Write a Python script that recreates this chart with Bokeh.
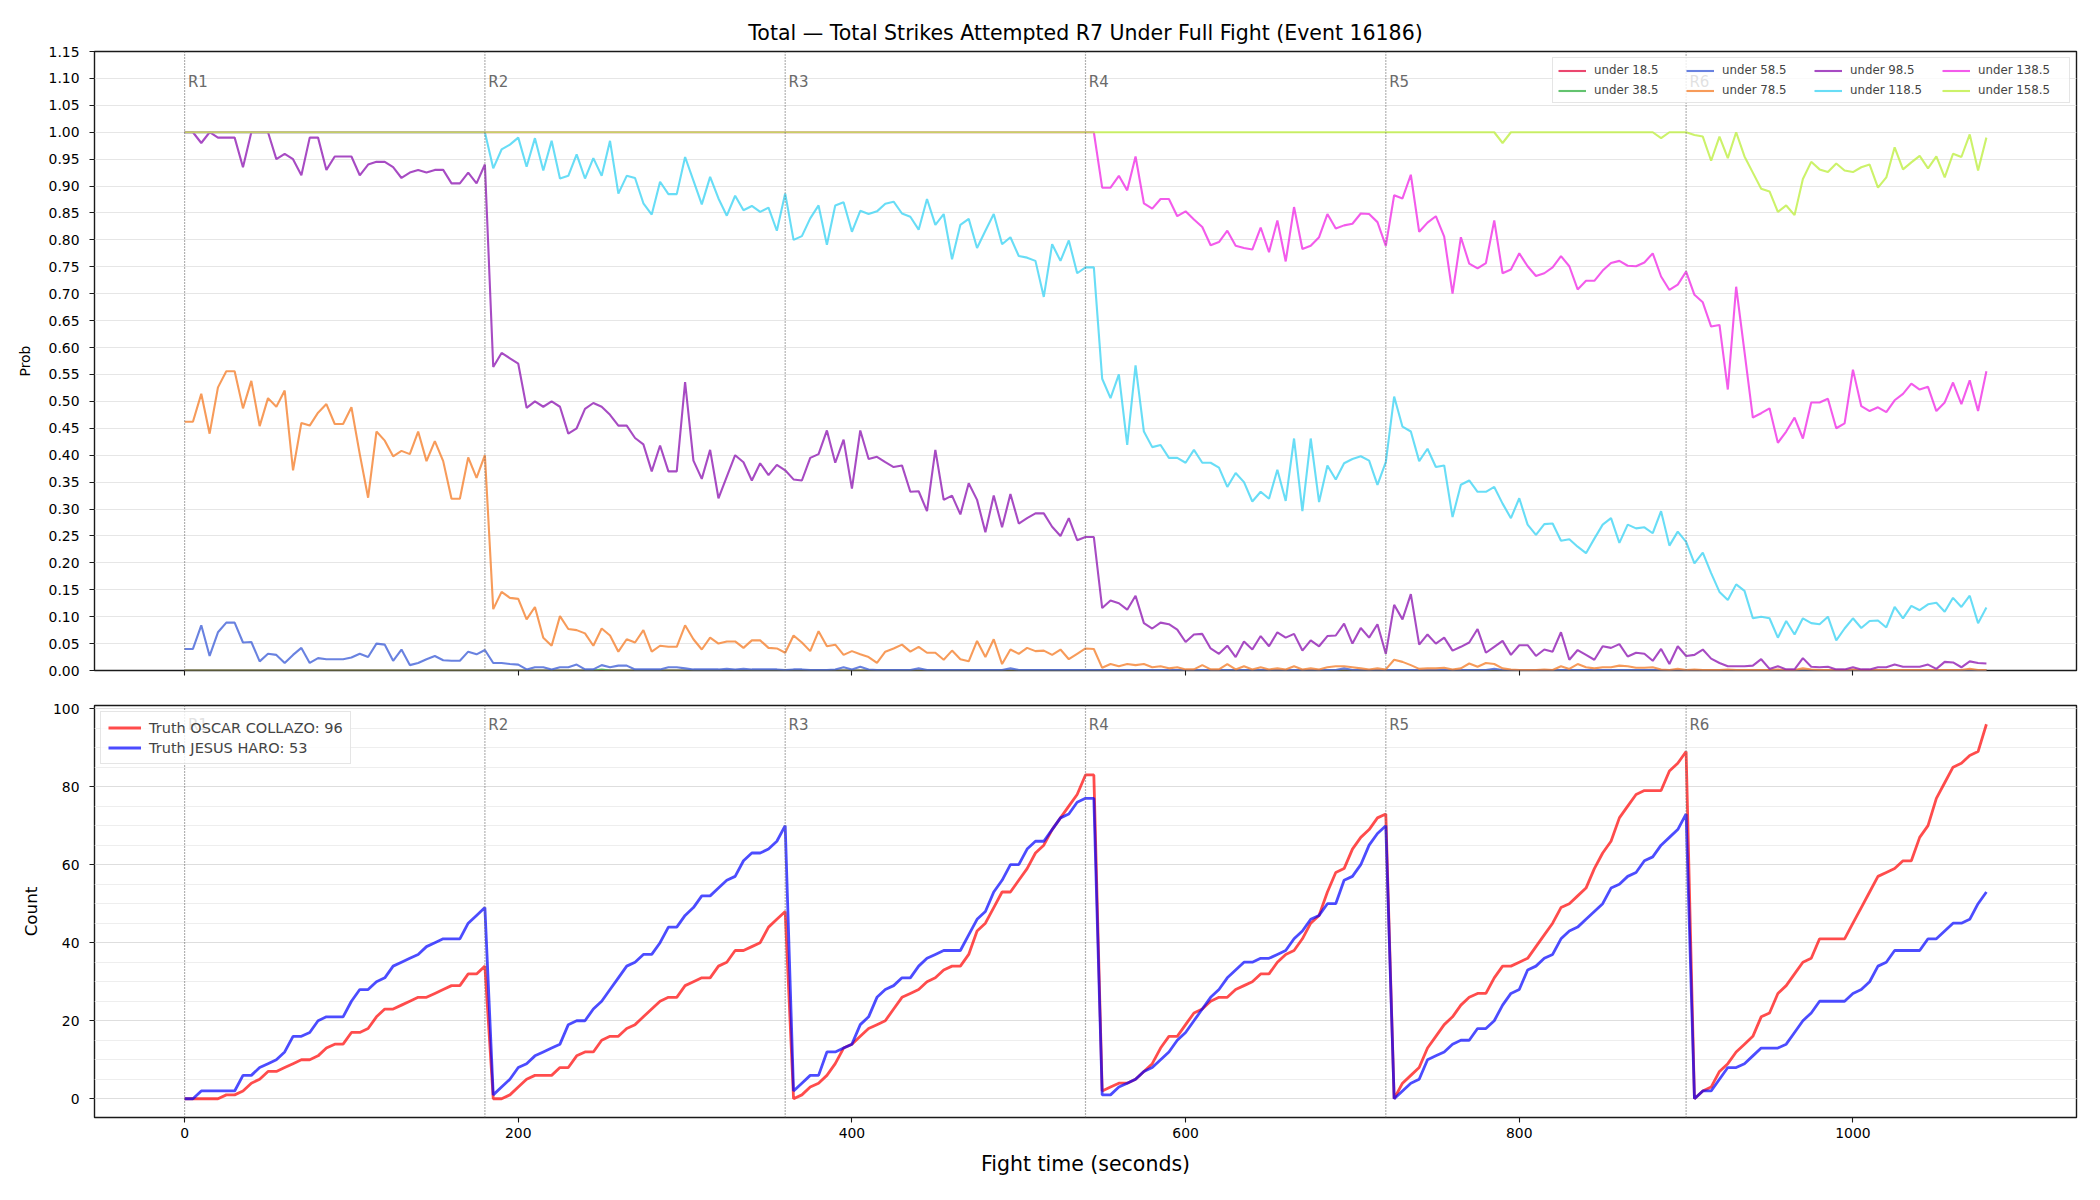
import numpy as np
from bokeh.plotting import figure
from bokeh.layouts import column
from bokeh.models import (Range1d, FixedTicker, NumeralTickFormatter, Span, Label,
                          Legend, LegendItem)
from bokeh.embed import file_html
from bokeh.resources import INLINE

FONT = "DejaVu Sans"

# one sample every 5 s across six 180 s rounds
seconds = np.arange(0, 1085, 5)
round_starts = [0, 180, 360, 540, 720, 900]
round_names = ["R1", "R2", "R3", "R4", "R5", "R6"]

# ---- probability of total strikes attempted finishing under each line ----
under_18_5 = [
    0.0, 0.0, 0.0, 0.0, 0.0, 0.0, 0.0, 0.0, 0.0, 0.0, 0.0, 0.0, 0.0, 0.0, 0.0, 0.0, 0.0, 0.0, 0.0,
    0.0, 0.0, 0.0, 0.0, 0.0, 0.0, 0.0, 0.0, 0.0, 0.0, 0.0, 0.0, 0.0, 0.0, 0.0, 0.0, 0.0, 0.0,
    0.0, 0.0, 0.0, 0.0, 0.0, 0.0, 0.0, 0.0, 0.0, 0.0, 0.0, 0.0, 0.0, 0.0, 0.0, 0.0, 0.0, 0.0,
    0.0, 0.0, 0.0, 0.0, 0.0, 0.0, 0.0, 0.0, 0.0, 0.0, 0.0, 0.0, 0.0, 0.0, 0.0, 0.0, 0.0, 0.0,
    0.0, 0.0, 0.0, 0.0, 0.0, 0.0, 0.0, 0.0, 0.0, 0.0, 0.0, 0.0, 0.0, 0.0, 0.0, 0.0, 0.0, 0.0, 0.0,
    0.0, 0.0, 0.0, 0.0, 0.0, 0.0, 0.0, 0.0, 0.0, 0.0, 0.0, 0.0, 0.0, 0.0, 0.0, 0.0, 0.0, 0.0,
    0.0, 0.0, 0.0, 0.0, 0.0, 0.0, 0.0, 0.0, 0.0, 0.0, 0.0, 0.0, 0.0, 0.0, 0.0, 0.0, 0.0, 0.0,
    0.0, 0.0, 0.0, 0.0, 0.0, 0.0, 0.0, 0.0, 0.0, 0.0, 0.0, 0.0, 0.0, 0.0, 0.0, 0.0, 0.0,
    0.0, 0.0, 0.0, 0.0, 0.0, 0.0, 0.0, 0.0, 0.0, 0.0, 0.0, 0.0, 0.0, 0.0, 0.0, 0.0, 0.0, 0.0,
    0.0, 0.0, 0.0, 0.0, 0.0, 0.0, 0.0, 0.0, 0.0, 0.0, 0.0, 0.0, 0.0, 0.0, 0.0, 0.0, 0.0, 0.0,
    0.0, 0.0, 0.0, 0.0, 0.0, 0.0, 0.0, 0.0, 0.0, 0.0, 0.0, 0.0, 0.0, 0.0, 0.0, 0.0, 0.0, 0.0,
    0.0, 0.0, 0.0, 0.0, 0.0, 0.0, 0.0, 0.0, 0.0, 0.0, 0.0, 0.0, 0.0, 0.0, 0.0, 0.0, 0.0, 0.0,
]
under_38_5 = [
    0.0, 0.0, 0.0, 0.0, 0.0, 0.0, 0.0, 0.0, 0.0, 0.0, 0.0, 0.0, 0.0, 0.0, 0.0, 0.0, 0.0, 0.0, 0.0,
    0.0, 0.0, 0.0, 0.0, 0.0, 0.0, 0.0, 0.0, 0.0, 0.0, 0.0, 0.0, 0.0, 0.0, 0.0, 0.0, 0.0, 0.0,
    0.0, 0.0, 0.0, 0.0, 0.0, 0.0, 0.0, 0.0, 0.0, 0.0, 0.0, 0.0, 0.0, 0.002, 0.0, 0.0, 0.0, 0.0,
    0.0, 0.0, 0.0, 0.0, 0.0, 0.0, 0.0, 0.0, 0.0, 0.0, 0.0, 0.0, 0.0, 0.0, 0.0, 0.0, 0.0, 0.0,
    0.0, 0.0, 0.0, 0.0, 0.0, 0.0, 0.0, 0.0, 0.0, 0.0, 0.0, 0.0, 0.0, 0.0, 0.0, 0.0, 0.0, 0.0, 0.0,
    0.0, 0.0, 0.0, 0.0, 0.0, 0.0, 0.0, 0.0, 0.0, 0.0, 0.0, 0.0, 0.0, 0.0, 0.0, 0.0, 0.0, 0.0,
    0.0, 0.0, 0.0, 0.0, 0.0, 0.0, 0.0, 0.0, 0.0, 0.0, 0.0, 0.0, 0.0, 0.0, 0.0, 0.0, 0.0, 0.0,
    0.0, 0.0, 0.0, 0.0, 0.0, 0.0, 0.0, 0.0, 0.0, 0.0, 0.0, 0.0, 0.0, 0.0, 0.0, 0.0, 0.0,
    0.0, 0.0, 0.0, 0.0, 0.0, 0.0, 0.0, 0.0, 0.0, 0.0, 0.0, 0.0, 0.0, 0.0, 0.0, 0.0, 0.0, 0.0,
    0.0, 0.0, 0.0, 0.0, 0.0, 0.0, 0.0, 0.0, 0.0, 0.0, 0.0, 0.0, 0.0, 0.0, 0.0, 0.0, 0.0, 0.0,
    0.0, 0.0, 0.0, 0.0, 0.0, 0.0, 0.0, 0.0, 0.0, 0.0, 0.0, 0.0, 0.0, 0.0, 0.0, 0.0, 0.0, 0.0,
    0.0, 0.0, 0.0, 0.0, 0.0, 0.0, 0.0, 0.0, 0.0, 0.0, 0.0, 0.0, 0.0, 0.0, 0.0, 0.0, 0.0, 0.0,
]
under_58_5 = [
    0.04, 0.04, 0.084, 0.027, 0.071, 0.089, 0.089, 0.052, 0.053, 0.017,
    0.031, 0.029, 0.014, 0.029, 0.042, 0.014, 0.023, 0.021, 0.021, 0.021,
    0.024, 0.031, 0.025, 0.05, 0.048, 0.018, 0.039, 0.01, 0.014, 0.021,
    0.027, 0.019, 0.018, 0.018, 0.035, 0.03, 0.038,
    0.014, 0.014, 0.012, 0.011, 0.002, 0.006, 0.006, 0.002, 0.006, 0.006,
    0.011, 0.002, 0.002, 0.01, 0.006, 0.009, 0.009, 0.002, 0.002, 0.002,
    0.002, 0.006, 0.006, 0.004, 0.002, 0.002, 0.002, 0.002, 0.003, 0.002,
    0.003, 0.002, 0.002, 0.002, 0.002, 0.001,
    0.002, 0.002, 0.001, 0.001, 0.001, 0.002, 0.006, 0.002, 0.007, 0.002,
    0.001, 0.001, 0.001, 0.001, 0.001, 0.004, 0.001, 0.001, 0.001, 0.001,
    0.001, 0.001, 0.001, 0.001, 0.001, 0.001, 0.004, 0.001, 0.001, 0.001,
    0.001, 0.001, 0.001, 0.001, 0.001, 0.001, 0.001,
    0.001, 0.001, 0.001, 0.001, 0.001, 0.001, 0.001, 0.001, 0.001, 0.001,
    0.001, 0.001, 0.001, 0.001, 0.001, 0.001, 0.001, 0.001, 0.001, 0.001,
    0.001, 0.001, 0.001, 0.001, 0.001, 0.001, 0.001, 0.001, 0.001, 0.004,
    0.001, 0.001, 0.001, 0.001, 0.001,
    0.001, 0.001, 0.001, 0.001, 0.001, 0.001, 0.001, 0.001, 0.001, 0.001,
    0.001, 0.001, 0.003, 0.001, 0.001, 0.001, 0.001, 0.001, 0.001, 0.001,
    0.001, 0.001, 0.001, 0.001, 0.001, 0.001, 0.001, 0.001, 0.001, 0.001,
    0.001, 0.001, 0.001, 0.001, 0.001, 0.001,
    0.0, 0.0, 0.0, 0.0, 0.0, 0.0, 0.0, 0.0, 0.0, 0.0,
    0.0, 0.0, 0.0, 0.0, 0.0, 0.0, 0.0, 0.0, 0.0, 0.0,
    0.0, 0.0, 0.0, 0.0, 0.0, 0.0, 0.0, 0.0, 0.0, 0.0,
    0.0, 0.0, 0.0, 0.0, 0.0, 0.0,
]
under_78_5 = [
    0.462, 0.462, 0.514, 0.44, 0.526, 0.556, 0.556, 0.487, 0.538, 0.454,
    0.506, 0.49, 0.52, 0.372, 0.46, 0.455, 0.479, 0.495, 0.458, 0.458,
    0.489, 0.402, 0.321, 0.444, 0.427, 0.398, 0.408, 0.402, 0.444, 0.389,
    0.426, 0.389, 0.319, 0.319, 0.396, 0.358, 0.40,
    0.114, 0.146, 0.135, 0.133, 0.095, 0.118, 0.061, 0.046, 0.101, 0.077,
    0.075, 0.069, 0.046, 0.078, 0.065, 0.035, 0.058, 0.052, 0.075, 0.035,
    0.046, 0.044, 0.044, 0.084, 0.058, 0.039, 0.061, 0.05, 0.054, 0.054,
    0.042, 0.056, 0.056, 0.042, 0.041, 0.033,
    0.065, 0.052, 0.036, 0.073, 0.045, 0.048, 0.029, 0.036, 0.03, 0.025,
    0.014, 0.035, 0.041, 0.048, 0.035, 0.044, 0.033, 0.033, 0.02, 0.037,
    0.021, 0.017, 0.055, 0.025, 0.058, 0.012, 0.039, 0.031, 0.042, 0.036,
    0.037, 0.029, 0.039, 0.021, 0.031, 0.041, 0.04,
    0.005, 0.012, 0.008, 0.012, 0.01, 0.012, 0.006, 0.008, 0.004, 0.006,
    0.002, 0.002, 0.01, 0.002, 0.002, 0.012, 0.002, 0.008, 0.002, 0.006,
    0.002, 0.004, 0.002, 0.008, 0.002, 0.004, 0.002, 0.006, 0.008, 0.008,
    0.006, 0.004, 0.002, 0.004, 0.002,
    0.02, 0.016, 0.01, 0.003, 0.004, 0.004, 0.005, 0.002, 0.004, 0.013,
    0.007, 0.014, 0.012, 0.004, 0.002, 0.001, 0.001, 0.001, 0.002, 0.001,
    0.008, 0.003, 0.012, 0.006, 0.004, 0.006, 0.006, 0.009, 0.008, 0.005,
    0.005, 0.006, 0.002, 0.001, 0.003, 0.001,
    0.002, 0.001, 0.001, 0.001, 0.002, 0.001, 0.001, 0.001, 0.001, 0.001,
    0.002, 0.001, 0.001, 0.004, 0.002, 0.001, 0.001, 0.001, 0.001, 0.002,
    0.001, 0.001, 0.001, 0.001, 0.001, 0.001, 0.001, 0.001, 0.001, 0.001,
    0.001, 0.001, 0.001, 0.003, 0.001, 0.001,
]
under_98_5 = [
    1.00, 1.00, 0.98, 1.00, 0.99, 0.99, 0.99, 0.935, 1.00, 1.00,
    1.00, 0.95, 0.96, 0.95, 0.92, 0.99, 0.99, 0.93, 0.955, 0.955,
    0.955, 0.92, 0.94, 0.945, 0.945, 0.935, 0.915, 0.925, 0.93, 0.925,
    0.93, 0.93, 0.905, 0.905, 0.925, 0.905, 0.94,
    0.564, 0.59, 0.58, 0.57, 0.488, 0.50, 0.49, 0.50, 0.49, 0.44,
    0.45, 0.486, 0.497, 0.49, 0.475, 0.455, 0.455, 0.432, 0.42, 0.37,
    0.418, 0.37, 0.37, 0.536, 0.39, 0.356, 0.41, 0.32, 0.36, 0.40,
    0.387, 0.353, 0.385, 0.363, 0.382, 0.372,
    0.355, 0.353, 0.395, 0.402, 0.446, 0.386, 0.429, 0.338, 0.446, 0.393,
    0.397, 0.387, 0.378, 0.381, 0.332, 0.333, 0.296, 0.41, 0.317, 0.325,
    0.29, 0.348, 0.317, 0.257, 0.325, 0.266, 0.328, 0.273, 0.283, 0.292,
    0.292, 0.267, 0.25, 0.283, 0.242, 0.248, 0.248,
    0.116, 0.13, 0.125, 0.113, 0.139, 0.088, 0.078, 0.089, 0.086, 0.076,
    0.053, 0.067, 0.068, 0.041, 0.031, 0.046, 0.025, 0.054, 0.039, 0.064,
    0.045, 0.071, 0.061, 0.068, 0.037, 0.056, 0.045, 0.064, 0.065, 0.087,
    0.05, 0.079, 0.061, 0.086, 0.031,
    0.122, 0.095, 0.142, 0.048, 0.067, 0.05, 0.061, 0.037, 0.044, 0.052,
    0.077, 0.033, 0.044, 0.055, 0.029, 0.047, 0.047, 0.027, 0.039, 0.035,
    0.071, 0.02, 0.038, 0.029, 0.02, 0.045, 0.042, 0.049, 0.026, 0.033,
    0.031, 0.018, 0.04, 0.012, 0.045, 0.027,
    0.029, 0.039, 0.022, 0.014, 0.008, 0.008, 0.008, 0.009, 0.021, 0.003,
    0.008, 0.002, 0.002, 0.023, 0.007, 0.006, 0.007, 0.002, 0.002, 0.006,
    0.002, 0.002, 0.006, 0.006, 0.011, 0.007, 0.007, 0.007, 0.011, 0.003,
    0.016, 0.015, 0.006, 0.017, 0.014, 0.013,
]
under_118_5 = [
    1.0, 1.0, 1.0, 1.0, 1.0, 1.0, 1.0, 1.0, 1.0, 1.0,
    1.0, 1.0, 1.0, 1.0, 1.0, 1.0, 1.0, 1.0, 1.0, 1.0,
    1.0, 1.0, 1.0, 1.0, 1.0, 1.0, 1.0, 1.0, 1.0, 1.0,
    1.0, 1.0, 1.0, 1.0, 1.0, 1.0, 1.0,
    0.933, 0.968, 0.977, 0.99, 0.936, 0.989, 0.929, 0.984, 0.914, 0.919,
    0.959, 0.914, 0.952, 0.919, 0.984, 0.886, 0.919, 0.915, 0.868, 0.847,
    0.908, 0.885, 0.885, 0.954, 0.91, 0.866, 0.917, 0.877, 0.845, 0.882,
    0.855, 0.863, 0.852, 0.86, 0.817, 0.886,
    0.80, 0.807, 0.84, 0.864, 0.791, 0.864, 0.87, 0.815, 0.854, 0.848,
    0.853, 0.867, 0.871, 0.849, 0.843, 0.819, 0.876, 0.828, 0.848, 0.764,
    0.828, 0.839, 0.785, 0.817, 0.848, 0.792, 0.805, 0.77, 0.767, 0.761,
    0.694, 0.792, 0.761, 0.799, 0.738, 0.749, 0.749,
    0.542, 0.506, 0.55, 0.419, 0.567, 0.444, 0.415, 0.419, 0.395, 0.395,
    0.386, 0.41, 0.386, 0.386, 0.377, 0.341, 0.367, 0.35, 0.314, 0.332,
    0.319, 0.373, 0.315, 0.431, 0.296, 0.431, 0.313, 0.381, 0.355, 0.385,
    0.393, 0.398, 0.39, 0.345, 0.387,
    0.509, 0.453, 0.444, 0.389, 0.412, 0.378, 0.381, 0.285, 0.345, 0.353,
    0.332, 0.332, 0.341, 0.31, 0.283, 0.32, 0.271, 0.252, 0.272, 0.273,
    0.241, 0.244, 0.23, 0.218, 0.245, 0.271, 0.283, 0.237, 0.271, 0.264,
    0.266, 0.255, 0.296, 0.232, 0.258, 0.239,
    0.199, 0.219, 0.181, 0.146, 0.131, 0.16, 0.148, 0.097, 0.1, 0.097,
    0.061, 0.092, 0.067, 0.097, 0.088, 0.086, 0.1, 0.056, 0.078, 0.097,
    0.079, 0.092, 0.093, 0.08, 0.118, 0.097, 0.12, 0.112, 0.123, 0.126,
    0.109, 0.135, 0.118, 0.139, 0.088, 0.117,
]
under_138_5 = [
    1.0, 1.0, 1.0, 1.0, 1.0, 1.0, 1.0, 1.0, 1.0, 1.0,
    1.0, 1.0, 1.0, 1.0, 1.0, 1.0, 1.0, 1.0, 1.0, 1.0,
    1.0, 1.0, 1.0, 1.0, 1.0, 1.0, 1.0, 1.0, 1.0, 1.0,
    1.0, 1.0, 1.0, 1.0, 1.0, 1.0, 1.0,
    1.0, 1.0, 1.0, 1.0, 1.0, 1.0, 1.0, 1.0, 1.0, 1.0,
    1.0, 1.0, 1.0, 1.0, 1.0, 1.0, 1.0, 1.0, 1.0, 1.0,
    1.0, 1.0, 1.0, 1.0, 1.0, 1.0, 1.0, 1.0, 1.0, 1.0,
    1.0, 1.0, 1.0, 1.0, 1.0, 1.0,
    1.0, 1.0, 1.0, 1.0, 1.0, 1.0, 1.0, 1.0, 1.0, 1.0,
    1.0, 1.0, 1.0, 1.0, 1.0, 1.0, 1.0, 1.0, 1.0, 1.0,
    1.0, 1.0, 1.0, 1.0, 1.0, 1.0, 1.0, 1.0, 1.0, 1.0,
    1.0, 1.0, 1.0, 1.0, 1.0, 1.0, 1.0,
    0.897, 0.897, 0.919, 0.892, 0.955, 0.868, 0.858, 0.876, 0.876, 0.844,
    0.853, 0.838, 0.824, 0.79, 0.796, 0.817, 0.789, 0.785, 0.782, 0.823,
    0.777, 0.836, 0.76, 0.861, 0.783, 0.789, 0.805, 0.848, 0.821, 0.827,
    0.83, 0.849, 0.848, 0.833, 0.789,
    0.883, 0.877, 0.921, 0.815, 0.832, 0.844, 0.806, 0.70, 0.805, 0.756,
    0.747, 0.757, 0.836, 0.738, 0.745, 0.775, 0.751, 0.733, 0.738, 0.749,
    0.77, 0.751, 0.708, 0.724, 0.724, 0.743, 0.757, 0.761, 0.752, 0.751,
    0.758, 0.775, 0.732, 0.707, 0.717, 0.741,
    0.698, 0.684, 0.639, 0.642, 0.522, 0.713, 0.592, 0.47, 0.478, 0.487,
    0.423, 0.444, 0.47, 0.431, 0.498, 0.498, 0.505, 0.45, 0.459, 0.559,
    0.491, 0.482, 0.489, 0.48, 0.502, 0.514, 0.533, 0.522, 0.527, 0.482,
    0.498, 0.535, 0.495, 0.539, 0.482, 0.556,
]
under_158_5 = [
    1.0, 1.0, 1.0, 1.0, 1.0, 1.0, 1.0, 1.0, 1.0, 1.0,
    1.0, 1.0, 1.0, 1.0, 1.0, 1.0, 1.0, 1.0, 1.0, 1.0,
    1.0, 1.0, 1.0, 1.0, 1.0, 1.0, 1.0, 1.0, 1.0, 1.0,
    1.0, 1.0, 1.0, 1.0, 1.0, 1.0, 1.0,
    1.0, 1.0, 1.0, 1.0, 1.0, 1.0, 1.0, 1.0, 1.0, 1.0,
    1.0, 1.0, 1.0, 1.0, 1.0, 1.0, 1.0, 1.0, 1.0, 1.0,
    1.0, 1.0, 1.0, 1.0, 1.0, 1.0, 1.0, 1.0, 1.0, 1.0,
    1.0, 1.0, 1.0, 1.0, 1.0, 1.0,
    1.0, 1.0, 1.0, 1.0, 1.0, 1.0, 1.0, 1.0, 1.0, 1.0,
    1.0, 1.0, 1.0, 1.0, 1.0, 1.0, 1.0, 1.0, 1.0, 1.0,
    1.0, 1.0, 1.0, 1.0, 1.0, 1.0, 1.0, 1.0, 1.0, 1.0,
    1.0, 1.0, 1.0, 1.0, 1.0, 1.0, 1.0,
    1.0, 1.0, 1.0, 1.0, 1.0, 1.0, 1.0, 1.0, 1.0, 1.0,
    1.0, 1.0, 1.0, 1.0, 1.0, 1.0, 1.0, 1.0, 1.0, 1.0,
    1.0, 1.0, 1.0, 1.0, 1.0, 1.0, 1.0, 1.0, 1.0, 1.0,
    1.0, 1.0, 1.0, 1.0, 1.0,
    1.0, 1.0, 1.0, 1.0, 1.0, 1.0, 1.0, 1.0, 1.0, 1.0,
    1.0, 1.0, 1.0, 0.98, 1.0, 1.0, 1.0, 1.0, 1.0, 1.0,
    1.0, 1.0, 1.0, 1.0, 1.0, 1.0, 1.0, 1.0, 1.0, 1.0,
    1.0, 1.0, 0.989, 1.0, 1.0, 1.0,
    0.995, 0.992, 0.947, 0.992, 0.952, 1.0, 0.955, 0.925, 0.895, 0.89,
    0.852, 0.864, 0.846, 0.913, 0.945, 0.931, 0.926, 0.942, 0.929, 0.926,
    0.935, 0.94, 0.897, 0.916, 0.972, 0.931, 0.944, 0.956, 0.933, 0.955,
    0.916, 0.96, 0.954, 0.996, 0.929, 0.99,
]

line_labels = ["under 18.5", "under 38.5", "under 58.5", "under 78.5",
               "under 98.5", "under 118.5", "under 138.5", "under 158.5"]
line_colors = ["#e6194b", "#3cb44b", "#4363d8", "#f58231",
               "#911eb4", "#42d4f4", "#f032e6", "#bfef45"]
line_series = [under_18_5, under_38_5, under_58_5, under_78_5,
               under_98_5, under_118_5, under_138_5, under_158_5]

# ---- running per-round strike counts ----
collazo_count = [
    0, 0, 0, 0, 0, 1, 1, 2, 4, 5, 7, 7, 8, 9, 10, 10, 11, 13, 14, 14,
    17, 17, 18, 21, 23, 23, 24, 25, 26, 26, 27, 28, 29, 29, 32, 32, 34,
    0, 0, 1, 3, 5, 6, 6, 6, 8, 8, 11, 12, 12, 15, 16, 16, 18, 19, 21, 23,
    25, 26, 26, 29, 30, 31, 31, 34, 35, 38, 38, 39, 40, 44, 46, 48,
    0, 1, 3, 4, 6, 9, 13, 14, 16, 18, 19, 20, 23, 26, 27, 28, 30, 31, 33, 34,
    34, 37, 43, 45, 49, 53, 53, 56, 59, 63, 65, 69, 72, 75, 78, 83, 83,
    2, 3, 4, 4, 5, 7, 9, 13, 16, 16, 19, 22, 23, 25, 26, 26, 28, 29, 30, 32,
    32, 35, 37, 38, 41, 45, 47, 53, 58, 59, 64, 67, 69, 72, 73,
    0, 4, 6, 8, 13, 16, 19, 21, 24, 26, 27, 27, 31, 34, 34, 35, 36, 39, 42, 45,
    49, 50, 52, 54, 59, 63, 66, 72, 75, 78, 79, 79, 79, 84, 86, 89,
    0, 2, 3, 7, 9, 12, 14, 16, 21, 22, 27, 29, 32, 35, 36, 41, 41, 41, 41, 45,
    49, 53, 57, 58, 59, 61, 61, 67, 70, 77, 81, 85, 86, 88, 89, 96,
]
haro_count = [
    0, 0, 2, 2, 2, 2, 2, 6, 6, 8, 9, 10, 12, 16, 16, 17, 20, 21, 21, 21,
    25, 28, 28, 30, 31, 34, 35, 36, 37, 39, 40, 41, 41, 41, 45, 47, 49,
    1, 3, 5, 8, 9, 11, 12, 13, 14, 19, 20, 20, 23, 25, 28, 31, 34, 35, 37, 37,
    40, 44, 44, 47, 49, 52, 52, 54, 56, 57, 61, 63, 63, 64, 66, 70,
    2, 4, 6, 6, 12, 12, 13, 14, 19, 21, 26, 28, 29, 31, 31, 34, 36, 37, 38, 38,
    38, 42, 46, 48, 53, 56, 60, 60, 64, 66, 66, 69, 72, 73, 76, 77, 77,
    1, 1, 3, 4, 5, 7, 8, 10, 12, 15, 17, 20, 23, 26, 28, 31, 33, 35, 35, 36,
    36, 37, 38, 41, 43, 46, 47, 50, 50, 56, 57, 60, 65, 68, 70,
    0, 2, 4, 5, 10, 11, 12, 14, 15, 15, 18, 18, 20, 24, 27, 28, 33, 34, 36, 37,
    41, 43, 44, 46, 48, 50, 54, 55, 57, 58, 61, 62, 65, 67, 69, 73,
    0, 2, 2, 5, 8, 8, 9, 11, 13, 13, 13, 14, 17, 20, 22, 25, 25, 25, 25, 27,
    28, 30, 34, 35, 38, 38, 38, 38, 41, 41, 43, 45, 45, 46, 50, 53,
]

for s in line_series + [collazo_count, haro_count]:
    assert len(s) == len(seconds), len(s)

TITLE = "Total — Total Strikes Attempted R7 Under Full Fight (Event 16186)"
INK = "#1a1a1a"


def style_axes(p):
    p.background_fill_color = "white"
    p.border_fill_color = "white"
    p.outline_line_color = INK
    p.outline_line_width = 1.4
    p.axis.axis_line_color = None
    p.axis.major_tick_line_color = INK
    p.axis.major_tick_line_width = 1.1
    p.axis.major_tick_out = 5
    p.axis.major_tick_in = 0
    p.axis.minor_tick_line_color = None
    p.axis.major_label_text_font = FONT
    p.axis.major_label_text_font_size = "13.9px"
    p.axis.major_label_text_color = "black"
    p.axis.axis_label_text_font = FONT
    p.axis.axis_label_text_font_style = "normal"
    p.axis.axis_label_text_color = "black"
    p.yaxis.major_label_standoff = 10
    p.xaxis.major_label_standoff = 5
    p.xgrid.grid_line_color = None


def add_rounds(p, label_y):
    for start, name in zip(round_starts, round_names):
        p.add_layout(Span(location=start, dimension="height", line_color="#666666",
                          line_dash="1 2", line_width=1.2))
        p.add_layout(Label(x=start + 2, y=label_y, text=name, text_font=FONT,
                           text_font_size="15px", text_color="#6a6a6a",
                           text_baseline="middle"))


x_ticks = FixedTicker(ticks=[0, 200, 400, 600, 800, 1000])

# ---------------- upper panel: line probabilities ----------------
p1 = figure(frame_width=1982, frame_height=619,
            x_range=Range1d(-54, 1134), y_range=Range1d(0, 1.15),
            output_backend="svg", toolbar_location=None,
            min_border_left=94, min_border_right=24,
            min_border_top=51, min_border_bottom=22, title=TITLE)
style_axes(p1)
p1.title.align = "center"
p1.title.text_font = FONT
p1.title.text_font_size = "20.5px"
p1.title.text_font_style = "normal"
p1.title.text_color = "black"
p1.title.standoff = 13

prob_ticks = FixedTicker(ticks=[round(0.05 * i, 2) for i in range(24)])
p1.yaxis.ticker = prob_ticks
p1.ygrid.ticker = prob_ticks
p1.yaxis.formatter = NumeralTickFormatter(format="0.00")
p1.ygrid.grid_line_color = "#e6e6e6"
p1.yaxis.axis_label = "Prob"
p1.yaxis.axis_label_text_font_size = "13.9px"
p1.yaxis.axis_label_standoff = 13
# shared time axis: tick marks only, labels live on the lower panel
p1.xaxis.ticker = x_ticks
p1.xaxis.major_label_text_color = None
p1.xaxis.major_label_text_font_size = "1px"
p1.xaxis.major_label_standoff = 0

add_rounds(p1, 1.15 * 0.95)

items = []
for lab, col, vals in zip(line_labels, line_colors, line_series):
    r = p1.line(seconds, vals, line_color=col, line_width=2.1, line_alpha=0.8)
    items.append(LegendItem(label=lab, renderers=[r]))

leg1 = Legend(items=items, location="top_right", orientation="vertical", nrows=2,
              label_text_font=FONT, label_text_font_size="11.8px",
              glyph_width=28, glyph_height=13, label_height=13, label_width=86,
              label_standoff=8, spacing=6, padding=5, margin=6,
              border_line_color="#cccccc", border_line_width=1,
              background_fill_color="white", background_fill_alpha=0.8)
p1.add_layout(leg1)

# ---------------- lower panel: actual per-round counts ----------------
p2 = figure(frame_width=1982, frame_height=412,
            x_range=p1.x_range, y_range=Range1d(-4.8, 100.8),
            output_backend="svg", toolbar_location=None,
            min_border_left=94, min_border_right=24,
            min_border_top=13, min_border_bottom=70)
style_axes(p2)
p2.xaxis.ticker = x_ticks
p2.xaxis.axis_label = "Fight time (seconds)"
p2.xaxis.axis_label_text_font_size = "20.5px"
p2.xaxis.axis_label_standoff = 11

count_ticks = FixedTicker(ticks=[0, 20, 40, 60, 80, 100],
                          minor_ticks=list(range(0, 101, 5)))
p2.yaxis.ticker = count_ticks
p2.ygrid.ticker = count_ticks
p2.ygrid.grid_line_color = "#dedede"
p2.ygrid.minor_grid_line_color = "#eeeeee"
p2.yaxis.axis_label = "Count"
p2.yaxis.axis_label_text_font_size = "16.7px"
p2.yaxis.axis_label_standoff = 9

add_rounds(p2, 100.8 * 0.95)

r_red = p2.line(seconds, collazo_count, line_color="#ff0000", line_alpha=0.7, line_width=2.8)
r_blue = p2.line(seconds, haro_count, line_color="#0000ff", line_alpha=0.7, line_width=2.8)

leg2 = Legend(items=[LegendItem(label=f"Truth OSCAR COLLAZO: {collazo_count[-1]}", renderers=[r_red]),
                     LegendItem(label=f"Truth JESUS HARO: {haro_count[-1]}", renderers=[r_blue])],
              location="top_left", label_text_font=FONT, label_text_font_size="14.5px",
              glyph_width=33, glyph_height=17, label_height=17, label_standoff=8,
              spacing=3, padding=7, margin=6,
              border_line_color="#cccccc", border_line_width=1,
              background_fill_color="white", background_fill_alpha=0.8)
p2.add_layout(leg2)

layout = column(p1, p2)
open("out.html", "w").write(file_html(layout, INLINE))
